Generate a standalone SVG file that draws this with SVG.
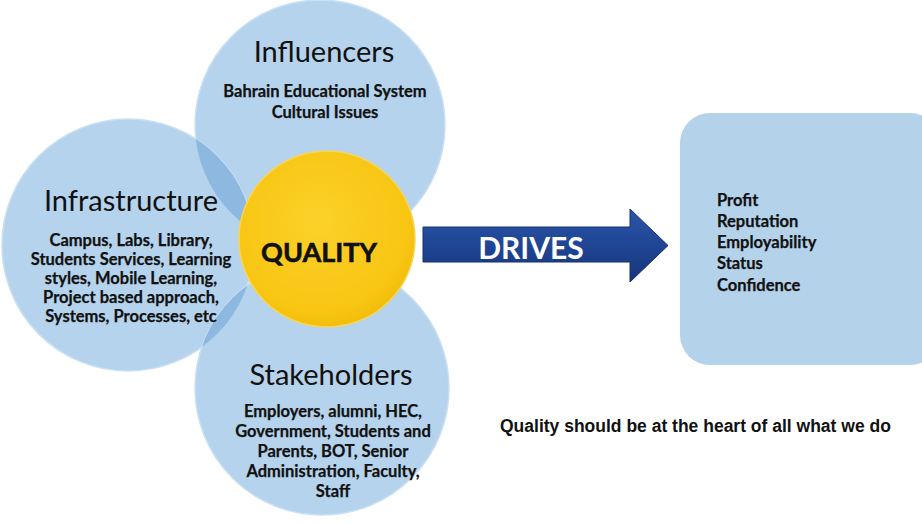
<svg xmlns="http://www.w3.org/2000/svg" width="922" height="524" viewBox="0 0 922 524">
<defs>
<style>
.c{fill:#b5d3ec;stroke:#c9e0f3;stroke-width:1.5}
.lens{fill:#8db8e0}
.t{font-family:Lato,"Open Sans",sans-serif;fill:#111;text-anchor:middle}
.h{font-size:29px}
.b{font-size:16.5px;font-weight:bold;stroke:#111;stroke-width:0.25}
.r{font-family:Lato,"Open Sans",sans-serif;fill:#111;font-size:16.5px;font-weight:bold;stroke:#111;stroke-width:0.25}
</style>
<radialGradient id="yg" cx="0.45" cy="0.4" r="0.65">
<stop offset="0" stop-color="#fbd12a"/>
<stop offset="0.8" stop-color="#f8c512"/>
<stop offset="1" stop-color="#f0b808"/>
</radialGradient>
<linearGradient id="ag" x1="0" y1="0" x2="0" y2="1">
<stop offset="0" stop-color="#2c56a8"/>
<stop offset="0.5" stop-color="#1f4594"/>
<stop offset="1" stop-color="#18357a"/>
</linearGradient>
<clipPath id="clipInf"><circle cx="320" cy="125" r="125"/></clipPath>
<clipPath id="clipSta"><circle cx="322" cy="388" r="127"/></clipPath>
</defs>
<rect width="922" height="524" fill="#fff"/>
<g id="influencers">
<circle class="c" cx="320" cy="125" r="125"/>
</g>
<g id="infrastructure">
<circle class="c" cx="128" cy="245" r="126"/>
</g>
<g id="stakeholders">
<circle class="c" cx="322" cy="388" r="127"/>
</g>
<g id="overlaps">
<circle class="lens" cx="128" cy="245" r="126" clip-path="url(#clipInf)"/>
<circle class="lens" cx="128" cy="245" r="126" clip-path="url(#clipSta)"/>
</g>
<g id="quality">
<circle cx="327" cy="239" r="88" fill="url(#yg)" stroke="#f5d65a" stroke-width="1.5"/>
<text x="319" y="262" font-family="Lato,'Open Sans',sans-serif" font-size="27" font-weight="bold" fill="#111" stroke="#111" stroke-width="0.6" text-anchor="middle">QUALITY</text>
</g>
<g id="influencers-text">
<text class="t h" x="324" y="62">Influencers</text>
<text class="t b" x="325" y="97">Bahrain Educational System</text>
<text class="t b" x="325" y="118">Cultural Issues</text>
</g>
<g id="infrastructure-text">
<text class="t h" x="131" y="211">Infrastructure</text>
<text class="t b" x="131" y="246">Campus, Labs, Library,</text>
<text class="t b" x="131" y="265">Students Services, Learning</text>
<text class="t b" x="131" y="284">styles, Mobile Learning,</text>
<text class="t b" x="131" y="303">Project based approach,</text>
<text class="t b" x="131" y="322">Systems, Processes, etc</text>
</g>
<g id="stakeholders-text">
<text class="t h" x="331" y="385">Stakeholders</text>
<text class="t b" x="333" y="417">Employers, alumni, HEC,</text>
<text class="t b" x="333" y="437">Government, Students and</text>
<text class="t b" x="333" y="457">Parents, BOT, Senior</text>
<text class="t b" x="333" y="477">Administration, Faculty,</text>
<text class="t b" x="333" y="497">Staff</text>
</g>
<g id="connectors">
<path d="M423,227 L630,227 L630,209 L668,245.5 L630,282 L630,262 L423,262 Z" fill="url(#ag)" stroke="#16316f" stroke-width="1"/>
<text x="531" y="259" font-family="Lato,'Open Sans',sans-serif" font-size="30" font-weight="bold" fill="#fff" text-anchor="middle">DRIVES</text>
</g>
<g id="outcomes">
<rect x="680" y="113" width="260" height="252" rx="30" fill="#b4d2ea"/>
<text class="r" x="717" y="206">Profit</text>
<text class="r" x="717" y="227">Reputation</text>
<text class="r" x="717" y="248">Employability</text>
<text class="r" x="717" y="269">Status</text>
<text class="r" x="717" y="291">Confidence</text>
</g>
<g id="caption">
<text x="500" y="432" font-family="'Liberation Sans',Arial,sans-serif" font-size="17.5" font-weight="bold" fill="#111">Quality should be at the heart of all what we do</text>
</g>
</svg>
